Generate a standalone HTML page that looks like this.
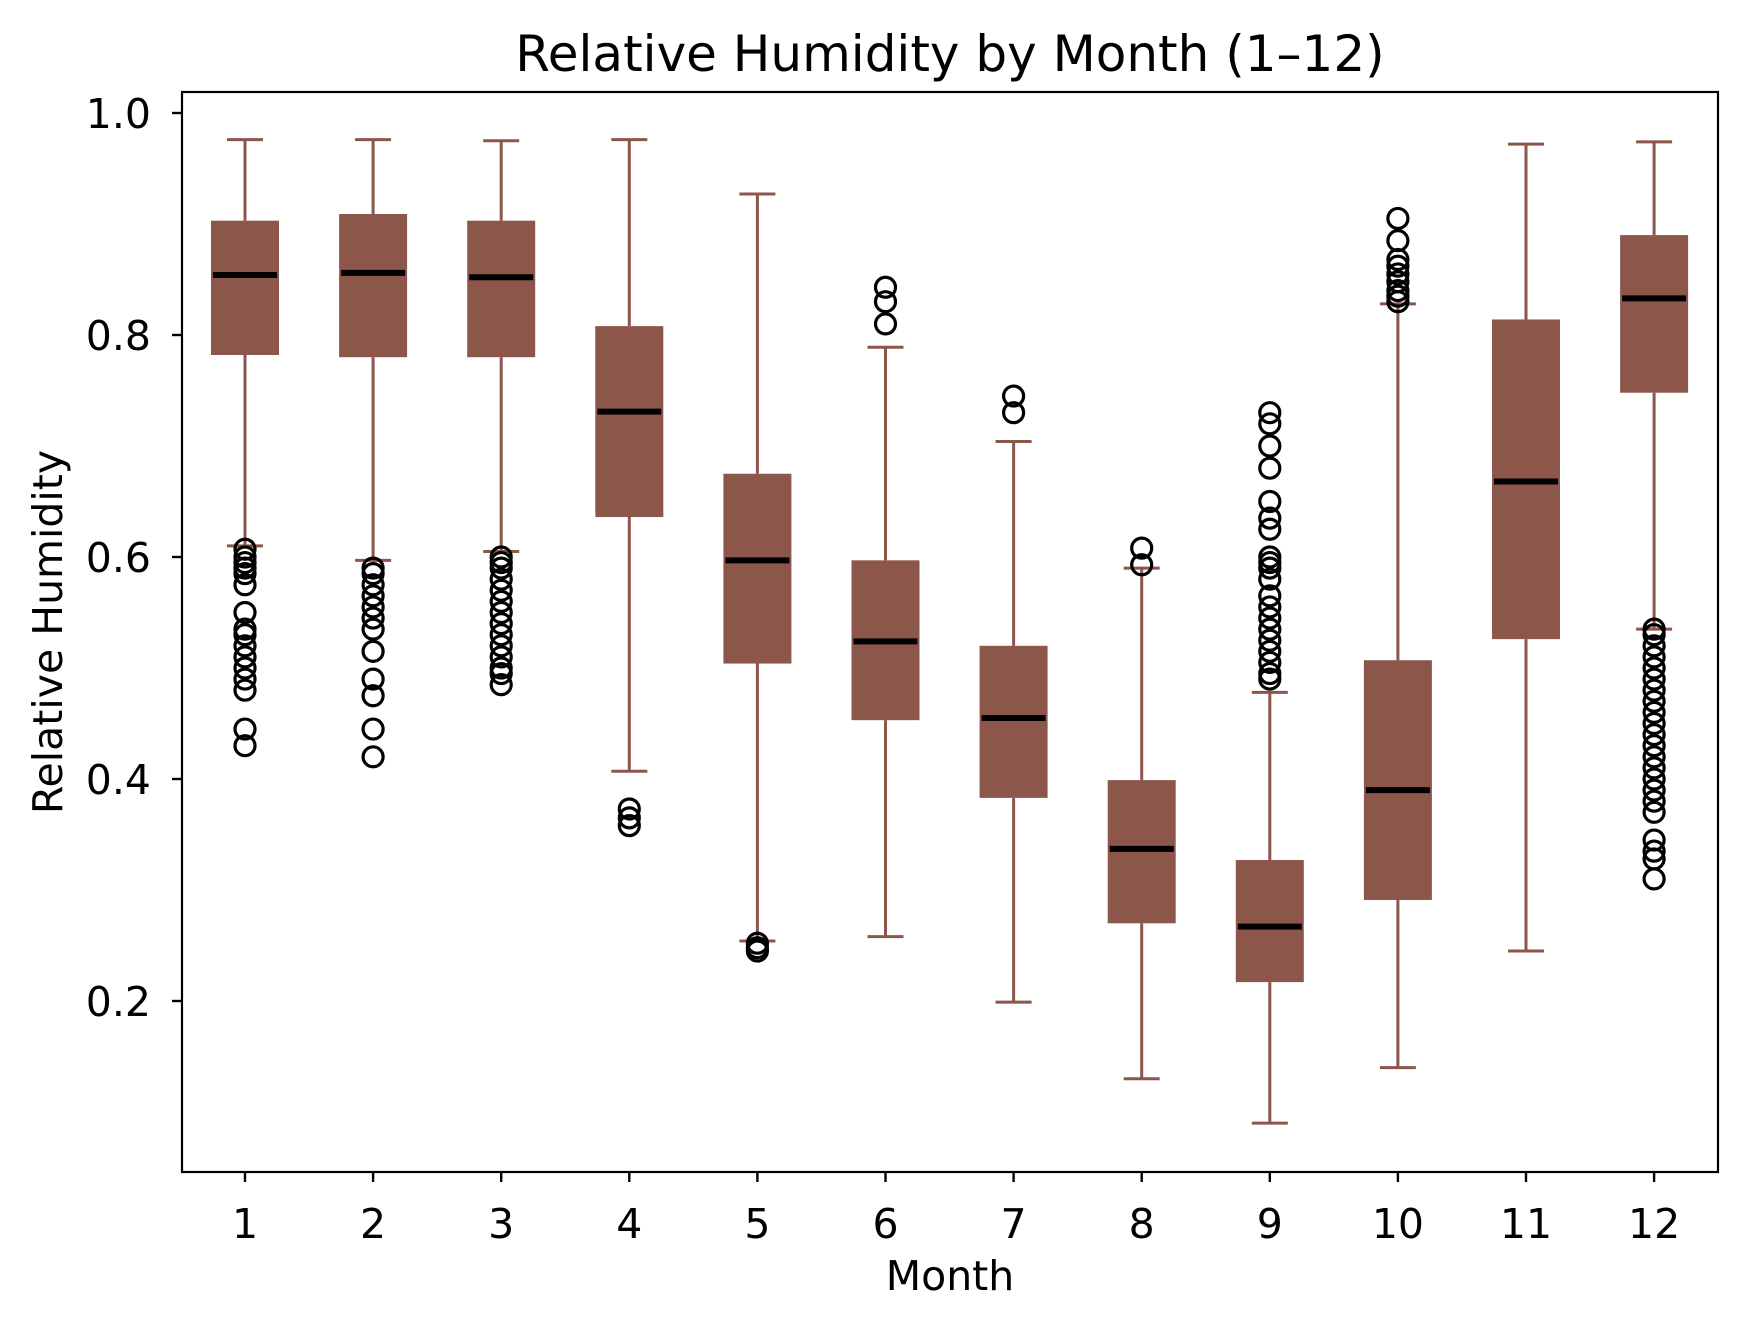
<!DOCTYPE html>
<html><head><meta charset="utf-8"><style>
html,body{margin:0;padding:0;background:#fff;}
svg text{font-family:"DejaVu Sans","Liberation Sans",sans-serif;fill:#000;}
</style></head><body>
<svg id="chart" width="1748" height="1328" viewBox="0 0 1748 1328" xmlns="http://www.w3.org/2000/svg">
<rect width="1748" height="1328" fill="#fff"/>
<g id="plot"></g>
<rect x="182" y="92" width="1536" height="1080" fill="none" stroke="#000" stroke-width="2.2"/>
<text x="950" y="71" font-size="50" text-anchor="middle">Relative Humidity by Month (1–12)</text>
<text x="950" y="1290" font-size="41" text-anchor="middle">Month</text>
<text x="62" y="632" font-size="41" text-anchor="middle" transform="rotate(-90 62 632)">Relative Humidity</text>
<g id="axes"></g>
</svg>
<script>
const months = [1,2,3,4,5,6,7,8,9,10,11,12];
const whiskerHigh = [0.976,0.976,0.975,0.976,0.927,0.789,0.704,0.590,0.478,0.828,0.972,0.974];
const q3 = [0.903,0.909,0.903,0.808,0.675,0.597,0.520,0.399,0.327,0.507,0.814,0.890];
const medians = [0.854,0.856,0.852,0.731,0.597,0.524,0.455,0.337,0.267,0.390,0.668,0.833];
const q1 = [0.782,0.780,0.780,0.636,0.504,0.453,0.383,0.270,0.217,0.291,0.526,0.748];
const whiskerLow = [0.610,0.597,0.605,0.407,0.254,0.258,0.199,0.130,0.090,0.140,0.245,0.535];
const outliers = [
 [0.607,0.60,0.595,0.59,0.585,0.575,0.55,0.535,0.53,0.52,0.51,0.50,0.49,0.48,0.445,0.43],
 [0.59,0.585,0.575,0.565,0.555,0.545,0.535,0.515,0.49,0.475,0.445,0.42],
 [0.60,0.595,0.59,0.58,0.57,0.56,0.55,0.54,0.53,0.52,0.51,0.50,0.495,0.485],
 [0.373,0.365,0.358],
 [0.252,0.248,0.245],
 [0.843,0.83,0.81],
 [0.745,0.73],
 [0.608,0.593],
 [0.73,0.72,0.70,0.68,0.65,0.635,0.625,0.60,0.595,0.59,0.58,0.565,0.555,0.545,0.535,0.525,0.515,0.505,0.495,0.49],
 [0.905,0.885,0.868,0.862,0.855,0.848,0.84,0.835,0.83],
 [],
 [0.535,0.53,0.52,0.51,0.50,0.49,0.48,0.47,0.46,0.45,0.44,0.43,0.42,0.41,0.40,0.39,0.38,0.37,0.345,0.335,0.328,0.31]
];
const yTicks = [0.2,0.4,0.6,0.8,1.0];
const yTickLabels = ["0.2","0.4","0.6","0.8","1.0"];

const NS = "http://www.w3.org/2000/svg";
function xs(m){ return 245 + (m-1)*128.1; }
function ys(v){ return 113 + (1-v)*1110; }
const COL = "#8c564b";
function mk(tag, attrs, parent){
  const e = document.createElementNS(NS, tag);
  for (const k in attrs) e.setAttribute(k, attrs[k]);
  parent.appendChild(e); return e;
}
const plot = document.getElementById('plot');
const axes = document.getElementById('axes');
months.forEach((m,i)=>{
  const g = mk('g',{},plot);
  
  
  const x = xs(m);
  mk('line',{x1:x,x2:x,y1:ys(whiskerHigh[i]),y2:ys(q3[i]),stroke:COL,'stroke-width':3},g);
  mk('line',{x1:x,x2:x,y1:ys(q1[i]),y2:ys(whiskerLow[i]),stroke:COL,'stroke-width':3},g);
  mk('line',{x1:x-18,x2:x+18,y1:ys(whiskerHigh[i]),y2:ys(whiskerHigh[i]),stroke:COL,'stroke-width':3},g);
  mk('line',{x1:x-18,x2:x+18,y1:ys(whiskerLow[i]),y2:ys(whiskerLow[i]),stroke:COL,'stroke-width':3},g);
  mk('rect',{x:x-34,y:ys(q3[i]),width:68,height:ys(q1[i])-ys(q3[i]),fill:COL},g);
  mk('line',{x1:x-32,x2:x+32,y1:ys(medians[i]),y2:ys(medians[i]),stroke:'#000','stroke-width':6},g);
  outliers[i].forEach(v=>{
    const c = mk('circle',{cx:x,cy:ys(v),r:10,fill:'none',stroke:'#000','stroke-width':3.2},g);
    
    
  });
  const t = mk('line',{x1:x,x2:x,y1:1172,y2:1182,stroke:'#000','stroke-width':2.4},axes);
  
  
  const lb = mk('text',{x:x,y:1238,'font-size':41,'text-anchor':'middle'},axes);
  lb.textContent = String(m);
  
  
});
yTicks.forEach((v,i)=>{
  const y = ys(v);
  const t = mk('line',{x1:172,x2:182,y1:y,y2:y,stroke:'#000','stroke-width':2.4},axes);
  
  
  const lb = mk('text',{x:151,y:y+15,'font-size':41,'text-anchor':'end'},axes);
  lb.textContent = yTickLabels[i];
  
  
});
</script>
</body></html>
